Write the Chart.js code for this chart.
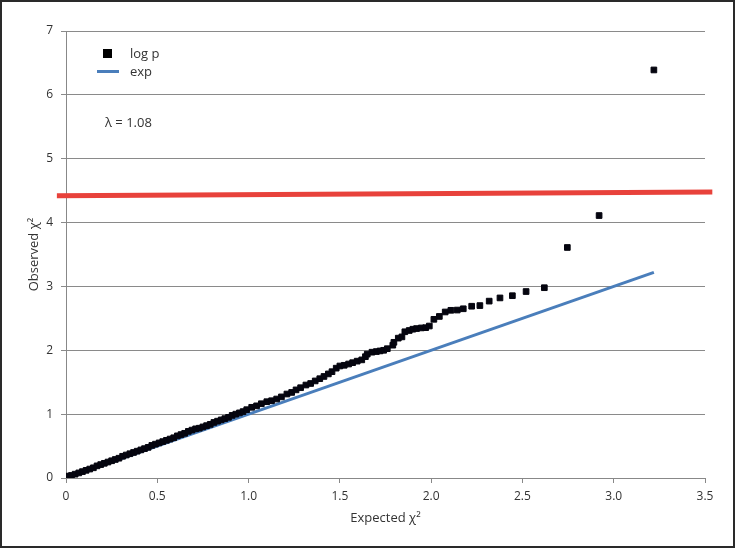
<!DOCTYPE html>
<html>
<head>
<meta charset="utf-8">
<script src="https://cdn.jsdelivr.net/npm/chart.js@4.4.1/dist/chart.umd.min.js"></script>
<style>
  body { margin: 0; background: #fff; }
  #wrap { position: relative; width: 735px; height: 548px; font-family: "Open Sans", sans-serif; color: #333; }
  #frame { position: absolute; left: 0; top: 0; width: 735px; height: 548px; box-sizing: border-box; border: 2px solid #2a2a2a; pointer-events: none; }
  .lbl { position: absolute; font-size: 13px; line-height: 16px; white-space: nowrap; }
  #mk { position: absolute; left: 103px; top: 49px; width: 9px; height: 9px; background: #000; }
  #ln { position: absolute; left: 97px; top: 70px; width: 22px; height: 3px; background: #4a7ebb; }
</style>
</head>
<body>
<div id="wrap">
  <canvas id="chart" width="735" height="548"></canvas>
  <div id="mk"></div>
  <div class="lbl" style="left:130px; top:45px;">log p</div>
  <div id="ln"></div>
  <div class="lbl" style="left:130px; top:63px;">exp</div>
  <div class="lbl" style="left:105px; top:114px;">λ = 1.08</div>
  <div id="frame"></div>
</div>
<script>
// observed vs expected (-log10 p)
var expectedX = [
  0.00, 0.01, 0.03, 0.05, 0.07, 0.09, 0.11, 0.13, 0.15, 0.17,
  0.19, 0.21, 0.23, 0.25, 0.27, 0.29, 0.31, 0.33, 0.35, 0.37,
  0.39, 0.41, 0.43, 0.45, 0.47, 0.49, 0.51, 0.53, 0.55, 0.57,
  0.59, 0.61, 0.63, 0.65, 0.67, 0.69, 0.71, 0.73, 0.75, 0.77,
  0.79, 0.81, 0.83, 0.85, 0.87, 0.89, 0.91, 0.93, 0.95, 0.97,
  0.99, 1.017, 1.044, 1.07, 1.10, 1.126, 1.154, 1.18, 1.21, 1.236,
  1.26, 1.285, 1.314, 1.34, 1.365, 1.39, 1.413, 1.437, 1.457, 1.48,
  1.50, 1.524, 1.548, 1.57, 1.595, 1.62, 1.64, 1.65, 1.676, 1.70,
  1.72, 1.74, 1.76, 1.79, 1.796, 1.82, 1.84, 1.856, 1.88, 1.90,
  1.92, 1.946, 1.97, 1.99, 2.015, 2.045, 2.077, 2.108, 2.143, 2.176,
  2.222, 2.267, 2.318, 2.377, 2.445, 2.52, 2.62, 2.746, 2.92, 3.22
];
var observedY = [
  0.02, 0.03, 0.04, 0.06, 0.08, 0.10, 0.12, 0.14, 0.16, 0.19,
  0.21, 0.23, 0.25, 0.27, 0.29, 0.31, 0.34, 0.36, 0.38, 0.40,
  0.42, 0.44, 0.46, 0.48, 0.51, 0.53, 0.55, 0.57, 0.59, 0.61,
  0.63, 0.66, 0.68, 0.70, 0.73, 0.75, 0.77, 0.78, 0.80, 0.82,
  0.84, 0.87, 0.89, 0.91, 0.93, 0.95, 0.98, 1.00, 1.02, 1.04,
  1.07, 1.107, 1.13, 1.163, 1.195, 1.21, 1.237, 1.27, 1.315, 1.34,
  1.38, 1.414, 1.456, 1.48, 1.52, 1.555, 1.59, 1.63, 1.665, 1.72,
  1.754, 1.765, 1.785, 1.806, 1.83, 1.85, 1.90, 1.94, 1.97, 1.98,
  1.99, 2.00, 2.025, 2.08, 2.125, 2.19, 2.21, 2.29, 2.31, 2.33,
  2.34, 2.35, 2.354, 2.38, 2.485, 2.53, 2.60, 2.626, 2.63, 2.65,
  2.69, 2.70, 2.77, 2.82, 2.855, 2.92, 2.98, 3.61, 4.11, 6.39
];
// expected line y = x
var expLineX = [0, 3.22];
var expLineY = [0, 3.22];
// red threshold line
var threshX = [-0.05, 3.54];
var threshY = [4.42, 4.48];

var xTicks = [0, 0.5, 1.0, 1.5, 2.0, 2.5, 3.0, 3.5];

function toPoints(xs, ys) {
  return xs.map(function(x, i) { return { x: x, y: ys[i] }; });
}

var tickFont = { family: '"Open Sans", sans-serif', size: 12 };
var titleFont = { family: '"Open Sans", sans-serif', size: 13 };

new Chart(document.getElementById('chart').getContext('2d'), {
  type: 'scatter',
  data: {
    datasets: [
      {
        label: 'exp',
        data: toPoints(expLineX, expLineY),
        showLine: true,
        borderColor: '#4a7ebb',
        borderWidth: 3,
        pointRadius: 0,
        order: 2
      },
      {
        label: 'log p',
        data: toPoints(expectedX, observedY),
        pointStyle: 'rect',
        pointRadius: 4,
        backgroundColor: '#05050f',
        borderColor: '#05050f',
        borderWidth: 1,
        order: 1
      },
      {
        label: 'threshold',
        data: toPoints(threshX, threshY),
        showLine: true,
        borderColor: '#e8423b',
        borderWidth: 5,
        pointRadius: 0,
        clip: false,
        order: 0
      }
    ]
  },
  options: {
    responsive: false,
    animation: false,
    layout: { padding: { left: 26, top: 31, right: 30, bottom: 22 } },
    plugins: { legend: { display: false }, tooltip: { enabled: false } },
    scales: {
      x: {
        type: 'linear',
        min: 0,
        max: 3.5,
        afterBuildTicks: function(scale) {
          scale.ticks = xTicks.map(function(v) { return { value: v }; });
        },
        afterFit: function(scale) { scale.height = 48; },
        grid: { drawOnChartArea: false, drawTicks: true, tickLength: 5, color: '#888' },
        border: { color: '#888', width: 1 },
        ticks: {
          font: tickFont,
          color: '#333',
          padding: 6,
          maxRotation: 0,
          callback: function(v) { return v === 0 ? '0' : v.toFixed(1); }
        },
        title: {
          display: true,
          text: 'Expected χ²',
          font: titleFont,
          color: '#333',
          padding: { top: 2, bottom: 0 }
        }
      },
      y: {
        min: 0,
        max: 7,
        afterFit: function(scale) { scale.width = 40; },
        grid: { color: '#8a8a8a', tickLength: 5 },
        border: { color: '#888', width: 1 },
        ticks: { stepSize: 1, font: tickFont, color: '#333', padding: 8 },
        title: {
          display: true,
          text: 'Observed χ²',
          font: titleFont,
          color: '#333',
          padding: { top: 0, bottom: 2 }
        }
      }
    }
  }
});
</script>
</body>
</html>
